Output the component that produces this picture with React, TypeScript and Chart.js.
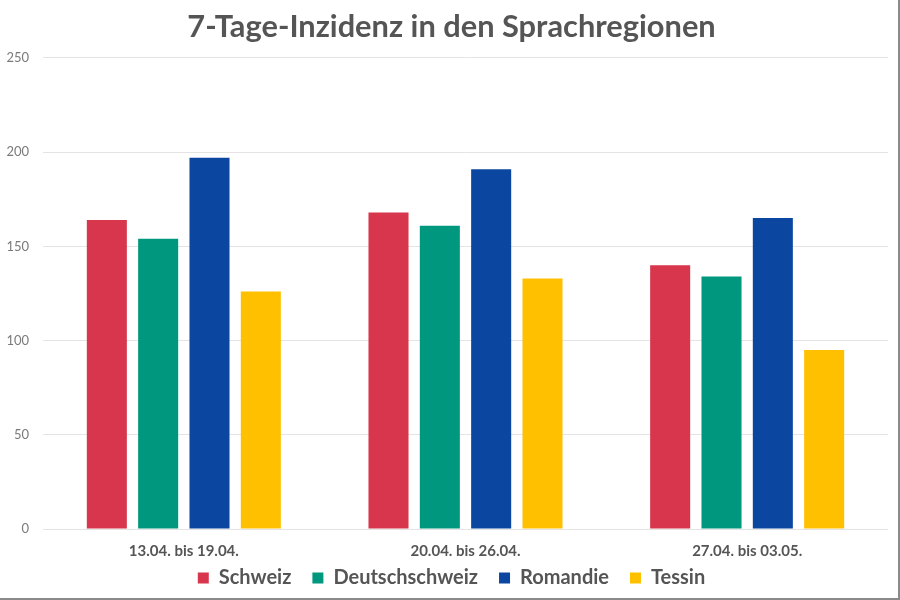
import React, { useEffect, useRef } from "react";
import { Chart, registerables } from "chart.js";

Chart.register(...registerables);

const titleText = "7-Tage-Inzidenz in den Sprachregionen";
const categories = ["13.04. bis 19.04.", "20.04. bis 26.04.", "27.04. bis 03.05."];
const seriesNames = ["Schweiz", "Deutschschweiz", "Romandie", "Tessin"];
const schweiz = [164, 168, 140];
const deutschschweiz = [154, 161, 134];
const romandie = [197, 191, 165];
const tessin = [126, 133, 95];
const seriesColors = ["#D8364C", "#00977F", "#0B46A0", "#FFC000"];
const yMin = 0;
const yMax = 250;
const yStep = 50;

// widens the label clip areas of the axes after layout (labels sit partly over the legend padding)
const labelAreaPlugin = {
  id: "labelArea",
  afterLayout(chart: any) {
    const x = chart.scales.x;
    const y = chart.scales.y;
    if (x) x.bottom = x.top + 32;
    if (y) y.left = 0;
  },
};

export default function App() {
  const canvasRef = useRef<HTMLCanvasElement | null>(null);

  useEffect(() => {
    if (!canvasRef.current) return;
    const values = [schweiz, deutschschweiz, romandie, tessin];
    const chart = new Chart(canvasRef.current, {
      type: "bar",
      data: {
        labels: categories,
        datasets: seriesNames.map((name, i) => ({
          label: name,
          data: values[i],
          backgroundColor: seriesColors[i],
          borderWidth: 0,
          categoryPercentage: 0.729,
          barPercentage: 0.78,
        })),
      },
      plugins: [labelAreaPlugin],
      options: {
        animation: false,
        responsive: false,
        layout: { padding: { left: 15, right: 12, top: 0, bottom: 2 } },
        plugins: {
          title: {
            display: true,
            text: titleText,
            color: "#555555",
            font: { family: "Lato", size: 30.8, weight: "bold" },
            padding: { top: 9, bottom: 12 },
          },
          legend: {
            position: "bottom",
            labels: {
              boxWidth: 11,
              boxHeight: 11,
              padding: 21,
              color: "#555555",
              font: { family: "Lato", size: 20, weight: "bold" },
            },
          },
          tooltip: { enabled: false },
        },
        scales: {
          x: {
            grid: { display: false },
            border: { display: false },
            ticks: {
              color: "#555555",
              font: { family: "Lato", size: 15, weight: "bold" },
              padding: 5,
              maxRotation: 0,
            },
            afterFit: (s: any) => {
              s.height = 18;
            },
          },
          y: {
            min: yMin,
            max: yMax,
            ticks: {
              stepSize: yStep,
              color: "#7a7a7a",
              font: { family: "Lato", size: 13 },
              padding: 14,
            },
            grid: { color: "#e4e4e4", drawTicks: false },
            border: { display: false },
            afterFit: (s: any) => {
              s.width = 28;
            },
          },
        },
      },
    });
    return () => chart.destroy();
  }, []);

  return (
    <div style={{ position: "absolute", left: 0, top: 0, width: 900, height: 600, background: "#fff" }}>
      <canvas ref={canvasRef} width={900} height={600} style={{ display: "block" }} />
      <div
        style={{
          position: "absolute",
          left: 0,
          top: 0,
          width: 900,
          height: 600,
          boxSizing: "border-box",
          borderRight: "2px solid #8a8a8a",
          borderBottom: "2px solid #8a8a8a",
          pointerEvents: "none",
        }}
      />
    </div>
  );
}
